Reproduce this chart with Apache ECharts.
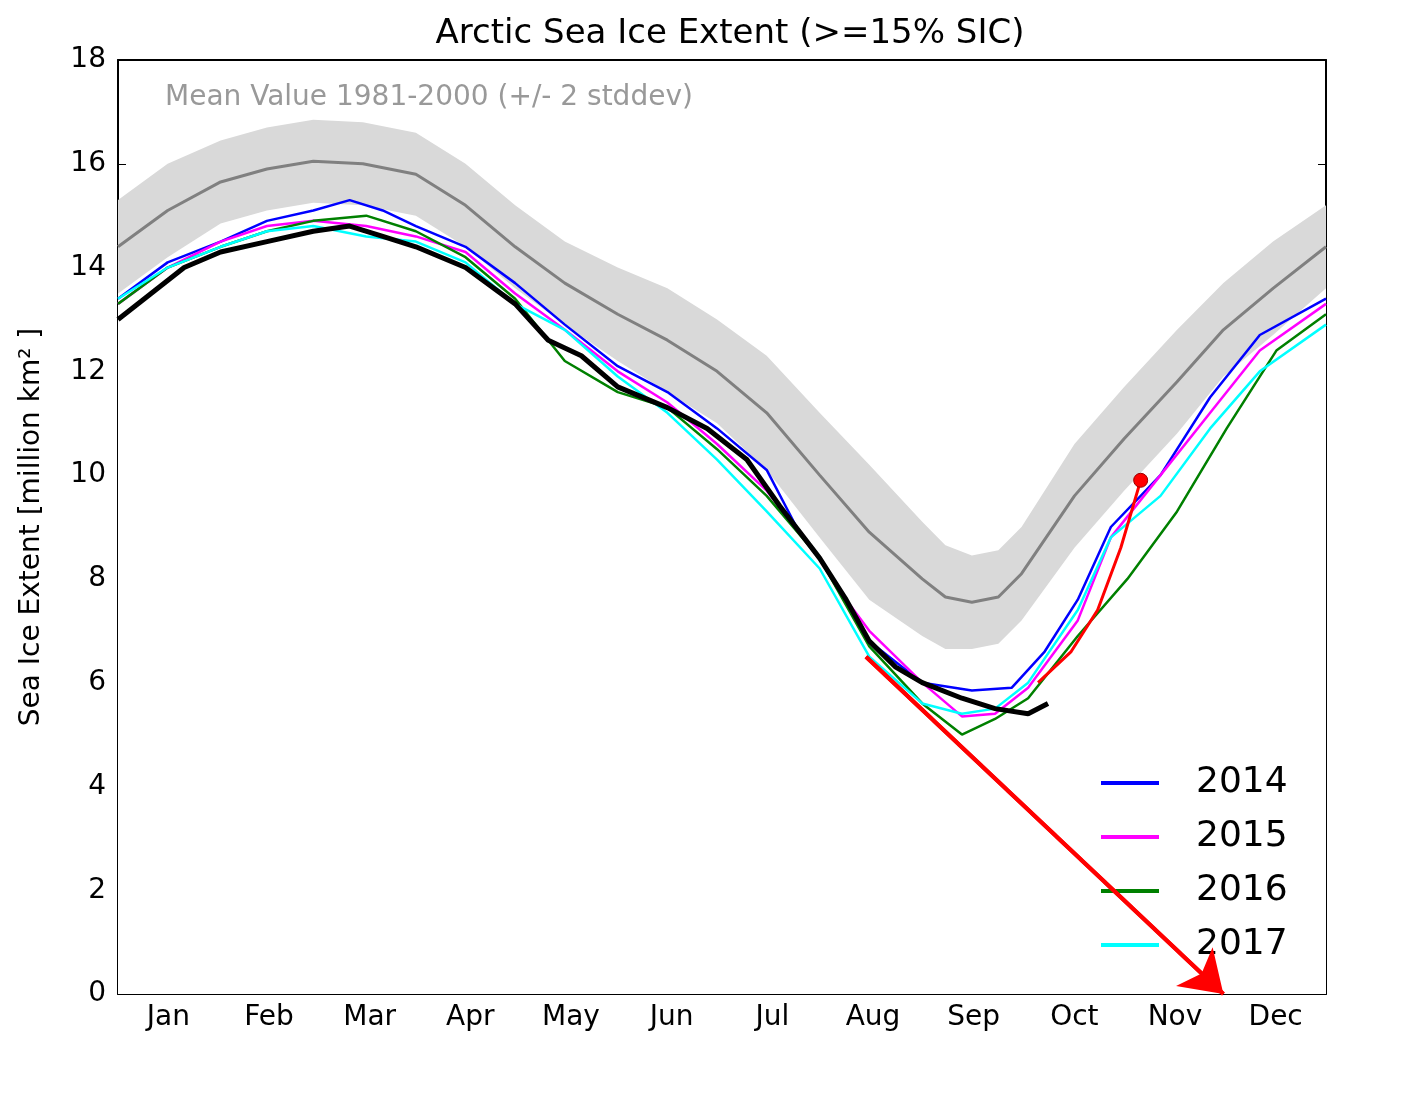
<!DOCTYPE html>
<html><head><meta charset="utf-8">
<script src="https://cdn.jsdelivr.net/npm/echarts@6/dist/echarts.min.js"></script>
<style>body{margin:0;background:#fff}#c{width:1403px;height:1099px}</style></head>
<body><div id="c"></div>
<script>
const months=['Jan','Feb','Mar','Apr','May','Jun','Jul','Aug','Sep','Oct','Nov','Dec'];
const meanDays=[0,15,31,45,59,74,90,105,120,135,151,166,181,196,212,227,243,250,258,266,273,289,304,320,334,349,365];
const meanVals=[14.4,15.1,15.65,15.9,16.05,16.0,15.8,15.2,14.4,13.7,13.1,12.6,12.0,11.2,10.0,8.9,8.0,7.65,7.55,7.65,8.1,9.6,10.7,11.8,12.8,13.6,14.4];
const bandWidth=[0.9,0.9,0.8,0.8,0.8,0.8,0.8,0.8,0.8,0.8,0.9,1.0,1.0,1.1,1.2,1.3,1.1,1.0,0.9,0.9,0.9,1.0,1.0,1.0,0.9,0.9,0.8];
const y2014=[[0,13.4],[15,14.1],[31,14.5],[45,14.9],[59,15.1],[70,15.3],[80,15.1],[90,14.8],[105,14.4],[120,13.7],[135,12.9],[151,12.1],[166,11.6],[181,10.9],[196,10.1],[205,9.0],[212,8.4],[227,6.8],[243,6.0],[258,5.85],[270,5.9],[280,6.6],[290,7.6],[300,9.0],[315,10.0],[330,11.5],[345,12.7],[365,13.4]];
const y2015=[[0,13.3],[15,14.0],[31,14.5],[45,14.8],[59,14.9],[75,14.8],[90,14.6],[105,14.3],[120,13.5],[135,12.8],[151,12.0],[166,11.4],[181,10.6],[196,9.7],[212,8.4],[220,7.6],[227,7.0],[243,6.0],[255,5.35],[265,5.4],[275,5.9],[290,7.2],[300,8.8],[315,10.0],[330,11.2],[345,12.4],[365,13.3]];
const y2016=[[0,13.3],[15,14.0],[31,14.4],[45,14.7],[59,14.9],[75,15.0],[90,14.7],[105,14.2],[120,13.4],[135,12.2],[151,11.6],[166,11.3],[181,10.5],[196,9.6],[212,8.4],[227,6.7],[243,5.6],[255,5.0],[265,5.3],[275,5.7],[290,6.9],[305,8.0],[320,9.3],[335,10.9],[350,12.4],[365,13.1]];
const y2017=[[0,13.4],[15,14.0],[31,14.4],[45,14.7],[59,14.8],[75,14.6],[90,14.5],[105,14.1],[120,13.3],[135,12.8],[151,11.9],[166,11.2],[181,10.3],[196,9.3],[212,8.2],[227,6.5],[243,5.6],[255,5.4],[265,5.5],[275,6.0],[290,7.4],[300,8.8],[315,9.6],[330,10.9],[345,12.0],[365,12.9]];
const y2018=[[0,13.0],[10,13.5],[20,14.0],[31,14.3],[45,14.5],[59,14.7],[70,14.8],[80,14.6],[90,14.4],[105,14.0],[120,13.3],[130,12.6],[140,12.3],[151,11.7],[166,11.3],[178,10.9],[190,10.3],[200,9.4],[212,8.4],[220,7.6],[227,6.8],[235,6.3],[243,6.0],[255,5.7],[265,5.5],[275,5.4],[281,5.6]];
const yOper=[[278,6.0],[288,6.6],[296,7.4],[303,8.6],[309,9.9]];
const arrowLine=[[226,6.5],[334,0]];
const yearColors={'2014':'#0000ff','2015':'#ff00ff','2016':'#008000','2017':'#00ffff'};
const mean=meanDays.map((d,i)=>[d,meanVals[i]]);
const lower=meanDays.map((d,i)=>[d,meanVals[i]-bandWidth[i]]);
const upper=meanDays.map((d,i)=>[d,meanVals[i]+bandWidth[i]]);
const F='DejaVu Sans';
const line=(name,data,color,w)=>({name,type:'line',data,symbol:'none',lineStyle:{color,width:w||2.5},itemStyle:{color},z:3});
const opt={
 animation:false,
 title:{text:'Arctic Sea Ice Extent (>=15% SIC)',left:725,top:12,textAlign:'center',textStyle:{fontFamily:F,fontSize:34,fontWeight:'normal',color:'#000'}},
 grid:{left:118,top:60,width:1208,height:934},
 legend:{data:['2014','2015','2016','2017'],orient:'vertical',left:1096,top:760,itemWidth:58,itemHeight:4,itemGap:18,
   textStyle:{fontFamily:F,fontSize:36,color:'#000',padding:[0,0,0,32]},icon:'rect'},
 xAxis:[{type:'value',min:0,max:365,show:false},
  {type:'category',data:months,position:'bottom',boundaryGap:true,axisLine:{lineStyle:{color:'#000',width:2}},
   axisTick:{inside:true,length:8,lineStyle:{color:'#000'}},axisLabel:{fontFamily:F,fontSize:28,color:'#000',margin:10}},
  {type:'category',data:months,position:'top',boundaryGap:true,axisLine:{lineStyle:{color:'#000',width:2}},axisTick:{inside:true,length:8,lineStyle:{color:'#000'}},axisLabel:{show:false}}],
 yAxis:[{type:'value',min:0,max:18,interval:2,axisLine:{show:true,lineStyle:{color:'#000',width:2}},axisTick:{inside:true,length:8,lineStyle:{color:'#000'}},
   splitLine:{show:false},axisLabel:{fontFamily:F,fontSize:28,color:'#000',margin:12},
   name:'Sea Ice Extent [million km² ]',nameLocation:'middle',nameGap:72,nameTextStyle:{fontFamily:F,fontSize:28,color:'#000'}},
  {type:'value',min:0,max:18,interval:2,position:'right',axisLine:{show:true,lineStyle:{color:'#000',width:2}},axisTick:{inside:true,length:8,lineStyle:{color:'#000'}},splitLine:{show:false},axisLabel:{show:false}}],
 series:[
  {type:'line',data:upper,symbol:'none',lineStyle:{opacity:0},areaStyle:{color:'#d9d9d9',opacity:1,origin:'start'},z:1},
  {type:'line',data:lower,symbol:'none',lineStyle:{opacity:0},areaStyle:{color:'#ffffff',opacity:1,origin:'start'},z:1},
  line('mean',mean,'#808080',3),
  line('2014',y2014,yearColors['2014']),
  line('2015',y2015,yearColors['2015']),
  line('2016',y2016,yearColors['2016']),
  line('2017',y2017,yearColors['2017']),
  line('2018',y2018,'#000',5),
  {type:'line',data:yOper,symbol:'none',lineStyle:{color:'#ff0000',width:3},z:4,
    markPoint:{symbol:'circle',symbolSize:14,itemStyle:{color:'#ff0000',borderColor:'#900',borderWidth:1},label:{show:false},data:[{coord:yOper[yOper.length-1]}]}},
  {type:'line',data:arrowLine,symbol:'none',lineStyle:{color:'#ff0000',width:4},z:5,
    markLine:{symbol:['none','arrow'],symbolSize:40,silent:true,label:{show:false},lineStyle:{color:'#ff0000',width:4,type:'solid'},data:[[{coord:arrowLine[0]},{coord:arrowLine[1]}]]}}
 ],
 graphic:[
  {type:'rect',left:1072,top:745,shape:{width:234,height:228},style:{fill:'rgba(255,255,255,0)',stroke:'#000',lineWidth:2},z:1},
  {type:'text',left:165,top:84,style:{text:'Mean Value 1981-2000 (+/- 2 stddev)',font:'28px "DejaVu Sans"',fill:'#999'}},
  {type:'text',left:520,top:443,style:{text:'2018',font:'bold 36px "DejaVu Sans"',fill:'#000'}},
  {type:'text',left:166,top:500,style:{text:'Climate Data Record',font:'30px "DejaVu Sans"',fill:'#000'}},
  {type:'text',left:176,top:549,style:{text:'Operational Product',font:'30px "DejaVu Sans"',fill:'#ff0000'}},
  {type:'rect',left:530,top:513,shape:{width:95,height:7},style:{fill:'#000'}},
  {type:'rect',left:530,top:565,shape:{width:95,height:4},style:{fill:'#ff0000'}},
  {type:'text',left:360,top:908,style:{text:'Graph was plotted 07/11/2018 08:16 UTC',font:'23px "Liberation Sans"',fill:'#000'}},
  {type:'text',left:360,top:945,style:{text:'Source: EUMETSAT OSI SAF (http://osisaf.met.no)',font:'23px "Liberation Sans"',fill:'#000'}}
 ]
};
echarts.init(document.getElementById('c')).setOption(opt);
</script></body></html>
